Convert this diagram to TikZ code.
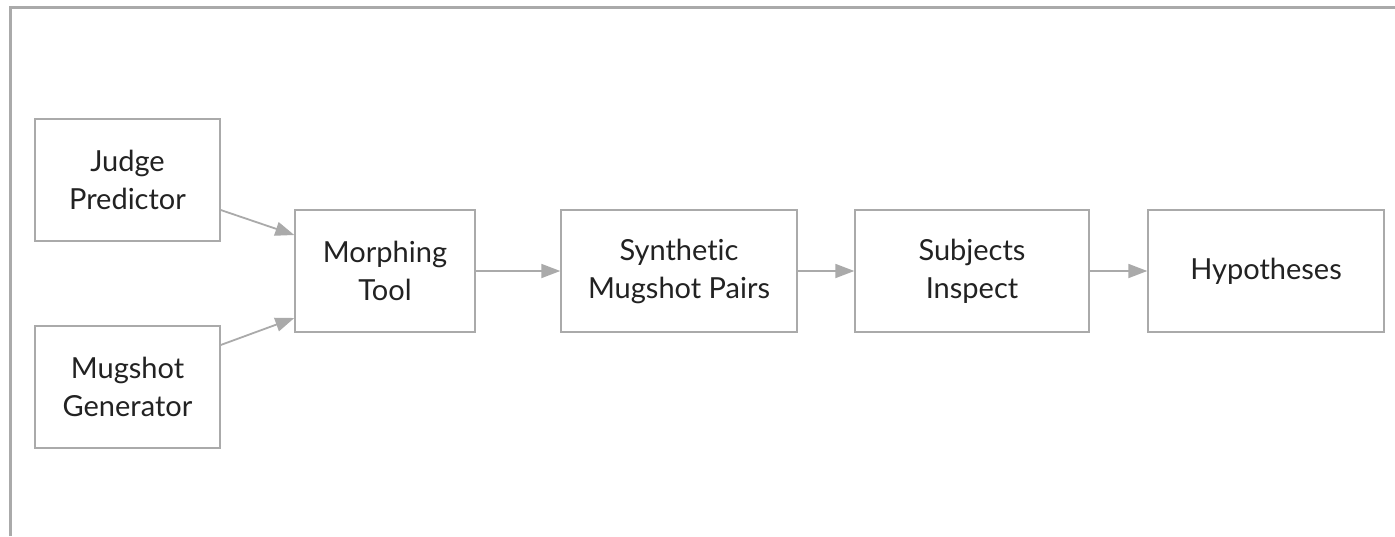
\documentclass[tikz,border=0pt]{standalone}
\usepackage{fontspec}
\setmainfont[Ligatures=NoCommon]{Lato}
\usetikzlibrary{arrows.meta}
\definecolor{boxgray}{HTML}{AAAAAA}
\definecolor{txt}{HTML}{222222}
\begin{document}
\begin{tikzpicture}[x=1pt,y=-1pt,
  blk/.style={draw=boxgray, line width=1.4pt, fill=white, text=txt, align=center,
    inner sep=0pt, font=\fontsize{29}{38}\selectfont},
  conn/.style={draw=boxgray, line width=1.8pt, -{Triangle[length=19pt,width=14pt]}}]
\useasboundingbox (0,0) rectangle (1395,536);
\fill[white] (0,0) rectangle (1395,536);
\draw[boxgray, line width=3pt] (10,536) -- (10,7) -- (1395,7);
\node[blk, minimum width=185pt, minimum height=122pt] (jp) at (127.5,180) {Judge\\Predictor};
\node[blk, minimum width=185pt, minimum height=122pt] (mg) at (127.5,387) {Mugshot\\Generator};
\node[blk, minimum width=180pt, minimum height=122pt] (mt) at (385,271) {Morphing\\Tool};
\node[blk, minimum width=236pt, minimum height=122pt] (sp) at (679,271) {Synthetic\\Mugshot Pairs};
\node[blk, minimum width=234pt, minimum height=122pt] (si) at (972,271) {Subjects\\Inspect};
\node[blk, minimum width=236pt, minimum height=122pt] (hy) at (1266,271) {Hypotheses};
\draw[conn] ([yshift=-30pt]jp.east) -- ([yshift=36pt]mt.west);
\draw[conn] ([yshift=42pt]mg.east) -- ([yshift=-47pt]mt.west);
\draw[conn] (mt.east) -- (sp.west);
\draw[conn] (sp.east) -- (si.west);
\draw[conn] (si.east) -- (hy.west);
\end{tikzpicture}
\end{document}
